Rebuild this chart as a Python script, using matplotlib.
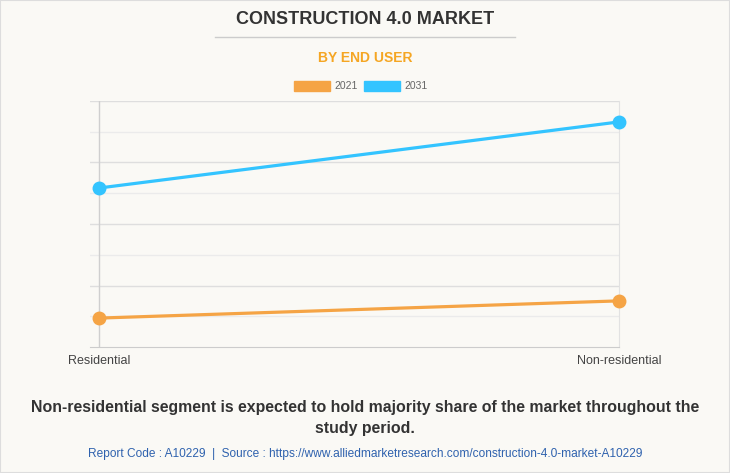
import matplotlib.pyplot as plt
from matplotlib.patches import Rectangle
import numpy as np

segmentos = ['Residential', 'Non-residential']
anios = ['2021', '2031']
valores_2021 = [0.94, 1.50]
valores_2031 = [5.17, 7.32]
colores = ['#F5A445', '#33C4FF']

W, H = 730, 473
fig = plt.figure(figsize=(W / 100, H / 100), dpi=100)
fig.patch.set_facecolor('#FAF9F5')
plt.rcParams['font.family'] = ['Liberation Sans', 'DejaVu Sans']

# area del grafico (en pixeles del lienzo)
izq, der, arriba, abajo = 90, 619, 101, 347
ax = fig.add_axes([izq / W, 1 - abajo / H, (der - izq) / W, (abajo - arriba) / H])
ax.set_facecolor('#FAF9F5')

x = np.arange(len(segmentos))
for vals, color in zip([valores_2021, valores_2031], colores):
    ax.plot(x, vals, color=color, lw=2.3, marker='o', ms=9, zorder=3, clip_on=False)

margen = 9 / 520
ax.set_xlim(-margen, 1)
ax.set_ylim(0, 8)
ax.set_xticks([])
ax.set_yticks([])
for y in range(1, 9):
    ax.axhline(y, color='#DEDEDE' if y % 2 == 0 else '#EBEBEB', lw=1, zorder=1)
ax.axvline(0, color='#CFCFCF', lw=1, zorder=1)
for s in ['left', 'top']:
    ax.spines[s].set_visible(False)
ax.spines['right'].set_color('#E2E2E2')
ax.spines['bottom'].set_color('#CCCCCC')

for xi, nombre in zip(x, segmentos):
    ax.text(xi, -0.25, nombre, ha='center', va='top', fontsize=9, color='#444444')

# titulos
fig.text(0.5, 1 - 20 / H, 'CONSTRUCTION 4.0 MARKET', ha='center', va='center',
         fontsize=13, fontweight='bold', color='#333333')
fig.add_artist(plt.Line2D([215 / W, 515 / W], [1 - 37 / H] * 2, color='#CCCCCC', lw=1))
fig.text(0.5, 1 - 58 / H, 'BY END USER', ha='center', va='center',
         fontsize=10, fontweight='bold', color='#F5A623')

# leyenda
for i, (anio, color) in enumerate(zip(anios, colores)):
    x0 = 294 + i * 70
    fig.add_artist(Rectangle((x0 / W, 1 - 91 / H), 36 / W, 10 / H, color=color,
                             transform=fig.transFigure))
    fig.text((x0 + 40) / W, 1 - 86 / H, anio, ha='left', va='center',
             fontsize=7.5, color='#666666')

fig.text(0.5, 1 - 418 / H,
         'Non-residential segment is expected to hold majority share of the market throughout the\nstudy period.',
         ha='center', va='center', fontsize=11.4, fontweight='bold', color='#333333',
         linespacing=1.45)
fig.text(0.5, 1 - 454 / H,
         'Report Code : A10229  |  Source : https://www.alliedmarketresearch.com/construction-4.0-market-A10229',
         ha='center', va='center', fontsize=8.6, color='#2F62AE')

fig.add_artist(Rectangle((0, 0), 1, 1, fill=False, ec='#DDDDDD', lw=1.5,
                         transform=fig.transFigure))

fig.savefig('out.png', dpi=100, facecolor=fig.get_facecolor())
